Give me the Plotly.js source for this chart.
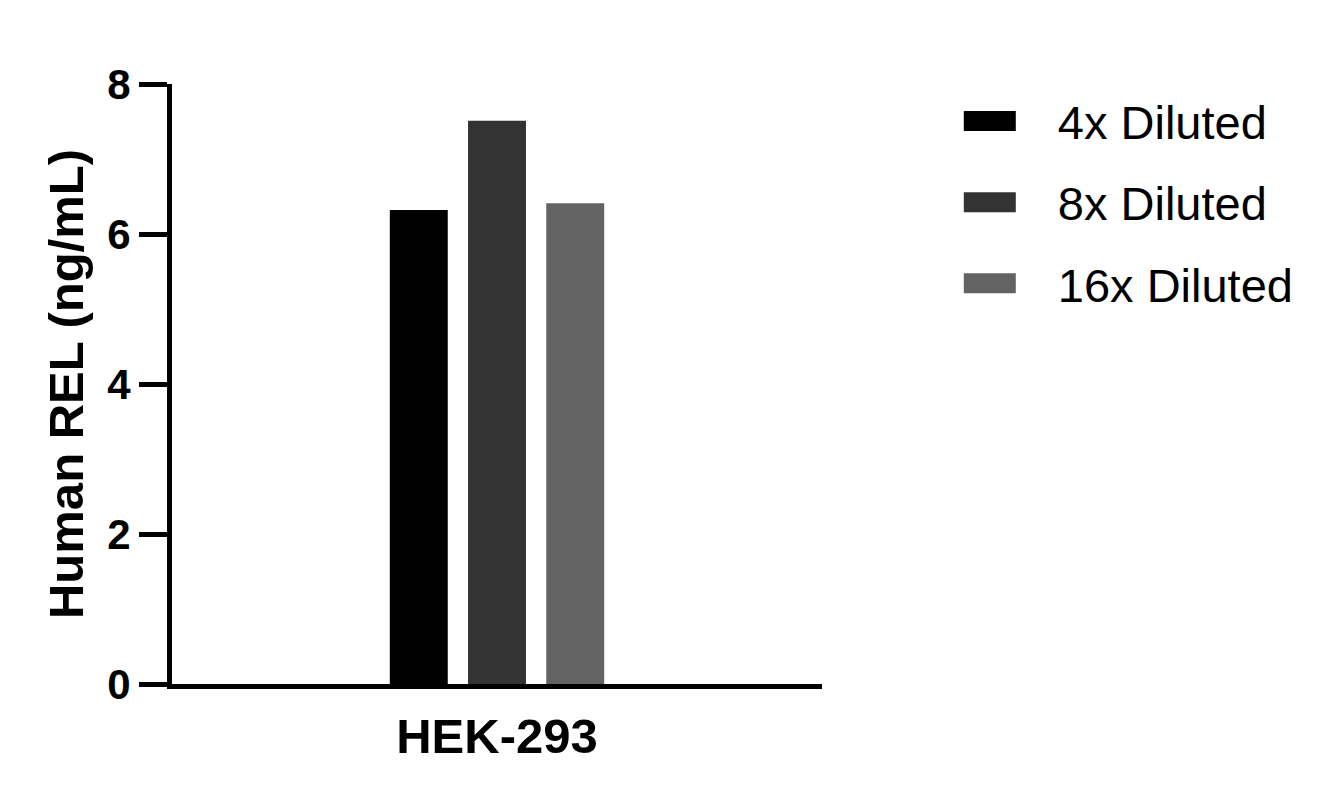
<!DOCTYPE html>
<html lang="en">
<head>
    <meta charset="UTF-8">
    <title>Human REL</title>
    <script src="https://cdn.plot.ly/plotly-3.0.1.min.js"></script>
    <style>
        html, body { margin: 0; padding: 0; background: #fff; }
        #chart { width: 1340px; height: 804px; }
    </style>
</head>
<body>

<div id="chart"></div>

<script>
    // values
    let categories = ['HEK-293'];
    let seriesNames = ['4x Diluted', '8x Diluted', '16x Diluted'];
    let diluted4x = [6.32];
    let diluted8x = [7.51];
    let diluted16x = [6.41];
    let barColors = ['#000000', '#333333', '#636363'];
    let yTicks = [0, 2, 4, 6, 8];

    let font = 'Liberation Sans, Arial, sans-serif';
    let seriesValues = [diluted4x, diluted8x, diluted16x];

    let data = [];
    for (let i = 0; i < seriesNames.length; i++) {
        data.push({
            x: categories,
            y: seriesValues[i],
            type: 'bar',
            name: seriesNames[i],
            legendgroup: 'g' + i,
            marker: {color: barColors[i], line: {width: 0}}
        });
    }

    let layout = {
        width: 1340,
        height: 804,
        margin: {l: 172, r: 518, t: 84, b: 120, autoexpand: false},
        paper_bgcolor: '#fff',
        plot_bgcolor: '#fff',
        font: {family: font, color: '#000'},
        barmode: 'group',
        bargap: 0.639,
        bargroupgap: 0.259,
        showlegend: true,
        legend: {
            x: 1.212,
            xanchor: 'left',
            y: 1.0,
            yanchor: 'top',
            font: {size: 47, family: font},
            traceorder: 'grouped',
            tracegroupgap: 17,
            itemwidth: 88
        },
        xaxis: {
            type: 'category',
            range: [-0.5, 0.5],
            showline: true,
            linecolor: '#000',
            linewidth: 5,
            ticks: '',
            ticklabelstandoff: 5,
            tickfont: {size: 49, family: font, weight: 'bold'},
            showgrid: false,
            zeroline: false
        },
        yaxis: {
            range: [0, 8],
            tickvals: yTicks,
            ticktext: yTicks.map(String),
            showline: true,
            linecolor: '#000',
            linewidth: 5,
            ticks: 'outside',
            ticklen: 28,
            tickwidth: 5,
            tickcolor: '#000',
            ticklabelstandoff: 0,
            tickfont: {size: 42, family: font, weight: 'bold'},
            showgrid: false,
            zeroline: false,
            title: {
                text: 'Human REL (ng/mL)',
                font: {size: 49, family: font, weight: 'bold'},
                standoff: 10
            }
        }
    };

    Plotly.newPlot('chart', data, layout, {staticPlot: true}).then(function () {
        // make the legend swatches wide flat blocks like the original
        let paths = document.querySelectorAll('.legend .legendpoints path');
        paths.forEach(function (p) {
            p.setAttribute('d', 'M26,10H-26V-10H26Z');
            p.setAttribute('transform', 'translate(30,0)');
        });
    });
</script>

</body>
</html>
